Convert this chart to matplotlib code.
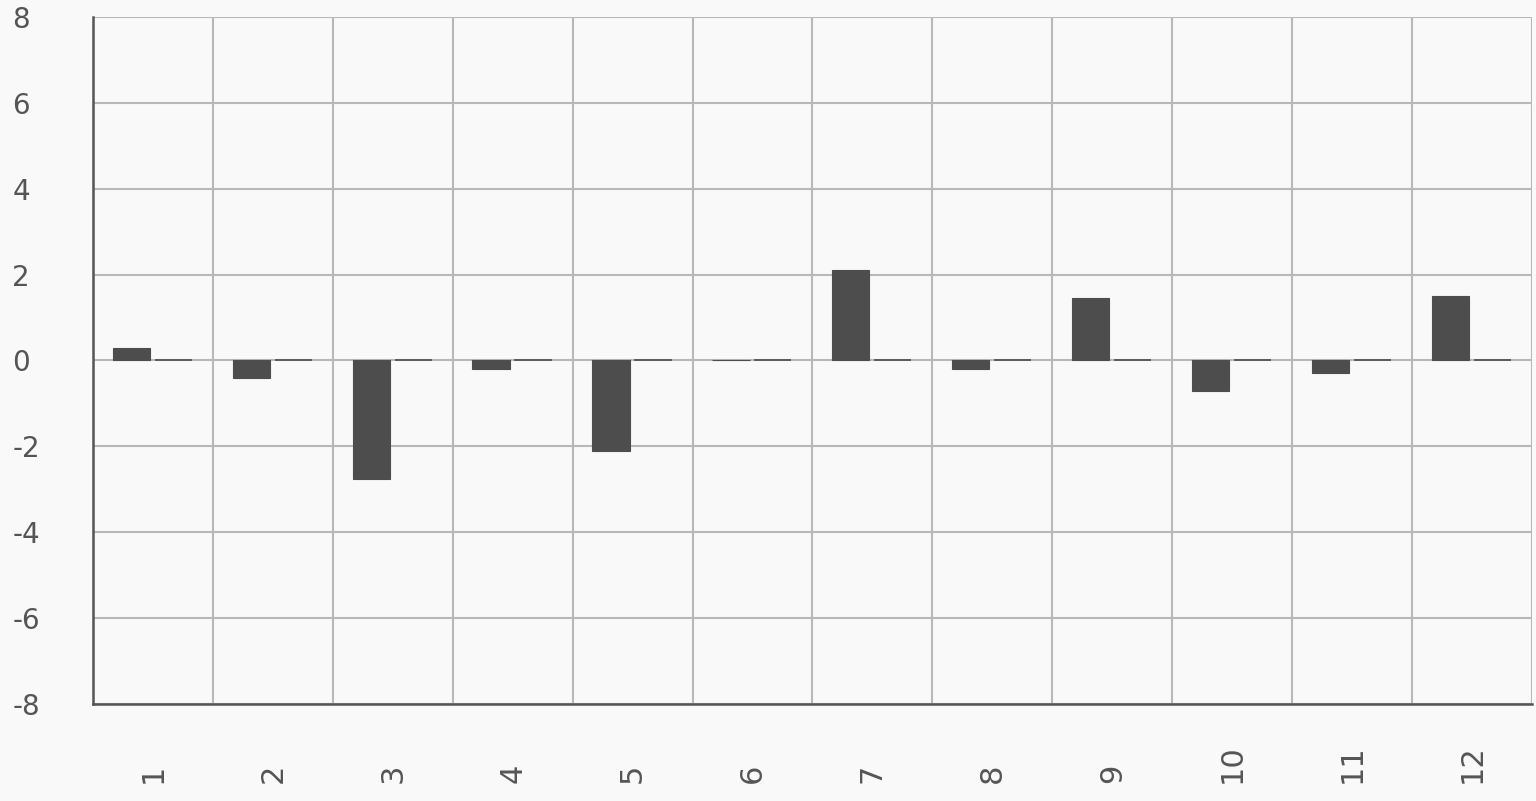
import numpy as np
import matplotlib
matplotlib.use("Agg")
import matplotlib.pyplot as plt

# data
categories = ["1", "2", "3", "4", "5", "6", "7", "8", "9", "10", "11", "12"]
series_a = [0.3, -0.4, -2.75, -0.2, -2.1, 0.0, 2.1, -0.2, 1.45, -0.7, -0.3, 1.5]
series_b = [0, 0, 0, 0, 0, 0, 0, 0, 0, 0, 0, 0]
y_ticks = [-8, -6, -4, -2, 0, 2, 4, 6, 8]

bg = "#f9f9f9"
bar_col = "#4d4d4d"
text_col = "#555555"

fig = plt.figure(figsize=(15.36, 8.01), dpi=100, facecolor=bg)
ax = fig.add_axes([0.0605, 0.1211, 0.9369, 0.8577], facecolor=bg)

x = np.arange(len(categories))
w = 0.31
ax.bar(x + 0.32, series_a, width=w, color=bar_col, edgecolor=bar_col, linewidth=0.8, zorder=3)
ax.bar(x + 0.67, series_b, width=w, color=bar_col, edgecolor=bar_col, linewidth=1.2, zorder=3)

ax.set_xlim(0, len(categories))
ax.set_ylim(-8, 8)

# grid lines at category boundaries and every 2 units
ax.set_xticks(np.arange(len(categories) + 1))
ax.set_xticklabels([])
ax.set_xticks(x + 0.5, minor=True)
ax.set_xticklabels(categories, minor=True, rotation=90, va="bottom", ha="center")
ax.set_yticks(y_ticks)
ax.set_yticklabels([str(v) for v in y_ticks])
for lab in ax.get_yticklabels():
    lab.set_ha("left")

ax.grid(True, which="major", color="#b8b8b8", linewidth=1.5, zorder=0)
ax.tick_params(axis="both", which="both", length=0, labelcolor=text_col)
ax.tick_params(axis="y", pad=58, labelsize=20)
ax.tick_params(axis="x", which="minor", pad=57, labelsize=22)

for side in ["top", "right"]:
    ax.spines[side].set_visible(False)
for side in ["left", "bottom"]:
    ax.spines[side].set_color("#555555")
    ax.spines[side].set_linewidth(1.8)
    ax.spines[side].set_zorder(4)

fig.savefig("out.png", dpi=100, facecolor=bg)
